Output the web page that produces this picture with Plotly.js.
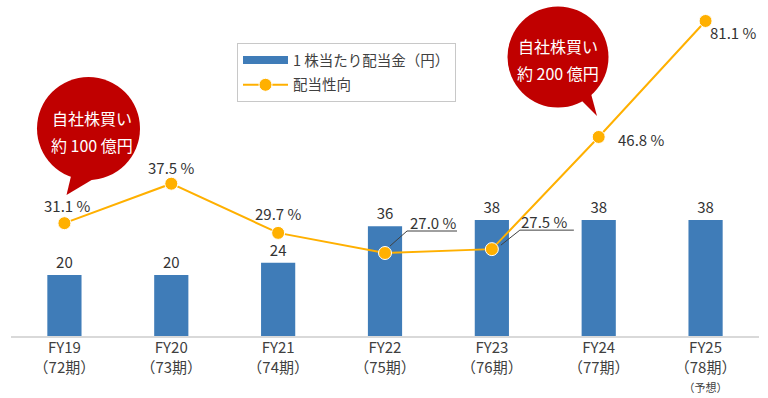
<!DOCTYPE html>
<html>
<head>
<meta charset="utf-8">
<script src="https://cdn.plot.ly/plotly-3.0.1.min.js"></script>
<style>
html,body{margin:0;padding:0;background:#fff;}
#chart{width:768px;height:398px;}
</style>
</head>
<body>
<div id="chart"></div>
<script>
// ---- data ----
const categories = ['FY19', 'FY20', 'FY21', 'FY22', 'FY23', 'FY24', 'FY25'];
const periodLabels = ['（72期）', '（73期）', '（74期）', '（75期）', '（76期）', '（77期）', '（78期）'];
const forecastNote = '（予想）';
const dividends = [20, 20, 24, 36, 38, 38, 38];
const payoutRatios = [31.1, 37.5, 29.7, 27.0, 27.5, 46.8, 81.1];
const dividendName = '1 株当たり配当金（円）';
const payoutName = '配当性向';
const buybackTitle = '自社株買い';
const buybackAmounts = ['約 100 億円', '約 200 億円'];

// ---- styles ----
const FONT = '"Noto Sans CJK JP", "Noto Sans", sans-serif';
const TXT = '#404040';
const BLUE = '#3F7CB8';
const ORANGE = '#FFB000';
const RED = '#C00000';

const idx = categories.map((_, i) => i);
const tickText = categories.map((c, i) =>
  c + '<br>' + periodLabels[i] + (i === categories.length - 1 ? '<br><span style="font-size:11px">' + forecastNote + '</span>' : ''));

const barTrace = {
  type: 'bar', x: idx, y: dividends, yaxis: 'y', width: 0.32,
  marker: {color: BLUE}, showlegend: false,
  text: dividends.map(String), textposition: 'outside',
  textfont: {family: FONT, size: 15, color: '#333333'}, cliponaxis: false,
  hoverinfo: 'skip'
};
const barLegend = {
  type: 'scatter', x: [null], y: [null], mode: 'lines', name: dividendName,
  line: {color: BLUE, width: 8}, legendgroup: 'a'
};
const lineTrace = {
  type: 'scatter', x: idx, y: payoutRatios, yaxis: 'y2', mode: 'lines+markers',
  name: payoutName, legendgroup: 'b',
  line: {color: ORANGE, width: 2},
  marker: {color: ORANGE, size: 13, line: {color: '#ffffff', width: 1}},
  cliponaxis: false, hoverinfo: 'skip'
};

// label offsets (screen px, dx right, dy down)
const labelOffsets = [[3, -18], [0, -16], [0, -19], [48, -31], [53, -28], [43, 3], [28, 12]];
const annotations = payoutRatios.map((v, i) => ({
  x: i, y: Math.log10(v), xref: 'x', yref: 'y2', showarrow: false,
  text: v.toFixed(1) + ' %', xshift: labelOffsets[i][0], yshift: -labelOffsets[i][1],
  font: {family: FONT, size: 15, color: '#333333'}
}));

// bubbles (paper anchors)
const bubbles = [
  {cx: (88.5 - 11) / 748, cy: (336 - 128.5) / 326, r: 51.5, tail: 'M-16.5,-43.5 L-22,-66.5 L11.5,-46.5 Z', amount: buybackAmounts[0], tx: 3},
  {cx: (558 - 11) / 748, cy: (336 - 57) / 326, r: 50.5, tail: 'M20,-40 L39,-59 L32,-33 Z', amount: buybackAmounts[1], tx: 0}
];
const shapes = [];
bubbles.forEach(b => {
  shapes.push({type: 'circle', xref: 'paper', yref: 'paper', xsizemode: 'pixel', ysizemode: 'pixel',
    xanchor: b.cx, yanchor: b.cy, x0: -b.r, x1: b.r, y0: -b.r, y1: b.r,
    fillcolor: RED, line: {width: 0}, layer: 'above'});
  shapes.push({type: 'path', xref: 'paper', yref: 'paper', xsizemode: 'pixel', ysizemode: 'pixel',
    xanchor: b.cx, yanchor: b.cy, path: b.tail, fillcolor: RED, line: {width: 0}, layer: 'above'});
  annotations.push({xref: 'paper', yref: 'paper', x: b.cx, y: b.cy, xanchor: 'center', yanchor: 'middle',
    xshift: b.tx, yshift: 11, showarrow: false,
    text: buybackTitle, font: {family: FONT, size: 16, color: '#ffffff'}});
  annotations.push({xref: 'paper', yref: 'paper', x: b.cx, y: b.cy, xanchor: 'center', yanchor: 'middle',
    xshift: b.tx, yshift: -16, showarrow: false,
    text: b.amount, font: {family: FONT, size: 16, color: '#ffffff'}});
});

// leader lines for FY22 / FY23 labels, anchored at the data points
shapes.push({type: 'path', xref: 'x', yref: 'y2', xsizemode: 'pixel', ysizemode: 'pixel',
  xanchor: 3, yanchor: payoutRatios[3], path: 'M5,7 L22,22 L72,22', line: {color: TXT, width: 1}});
shapes.push({type: 'path', xref: 'x', yref: 'y2', xsizemode: 'pixel', ysizemode: 'pixel',
  xanchor: 4, yanchor: payoutRatios[4], path: 'M9,4 L28,19 L82,19', line: {color: TXT, width: 1}});

const layout = {
  width: 768, height: 398,
  margin: {l: 11, r: 9, t: 10, b: 62},
  paper_bgcolor: '#ffffff', plot_bgcolor: '#ffffff',
  font: {family: FONT, color: TXT, size: 14},
  showlegend: true,
  legend: {
    x: (237 - 11) / 748, y: (336 - 43) / 326, xanchor: 'left', yanchor: 'top',
    bgcolor: '#ffffff', bordercolor: '#c8c8c8', borderwidth: 1,
    font: {family: FONT, size: 14.5, color: TXT},
    traceorder: 'grouped', tracegroupgap: 3, itemwidth: 45
  },
  xaxis: {
    type: 'linear', range: [-0.5, 6.5], tickvals: idx, ticktext: tickText,
    showgrid: false, zeroline: false, showline: true, linecolor: '#d9d9d9', linewidth: 2,
    ticks: '', ticklabelstandoff: -3, tickfont: {family: FONT, size: 15, color: TXT}, fixedrange: true
  },
  yaxis: {range: [0, 106.9], visible: false, showgrid: false, zeroline: false, fixedrange: true},
  yaxis2: {type: 'log', range: [1.2605, 1.9316], overlaying: 'y', visible: false,
    showgrid: false, zeroline: false, fixedrange: true},
  annotations: annotations,
  shapes: shapes
};

Plotly.newPlot('chart', [barTrace, barLegend, lineTrace], layout, {displayModeBar: false, staticPlot: true});
</script>
</body>
</html>
